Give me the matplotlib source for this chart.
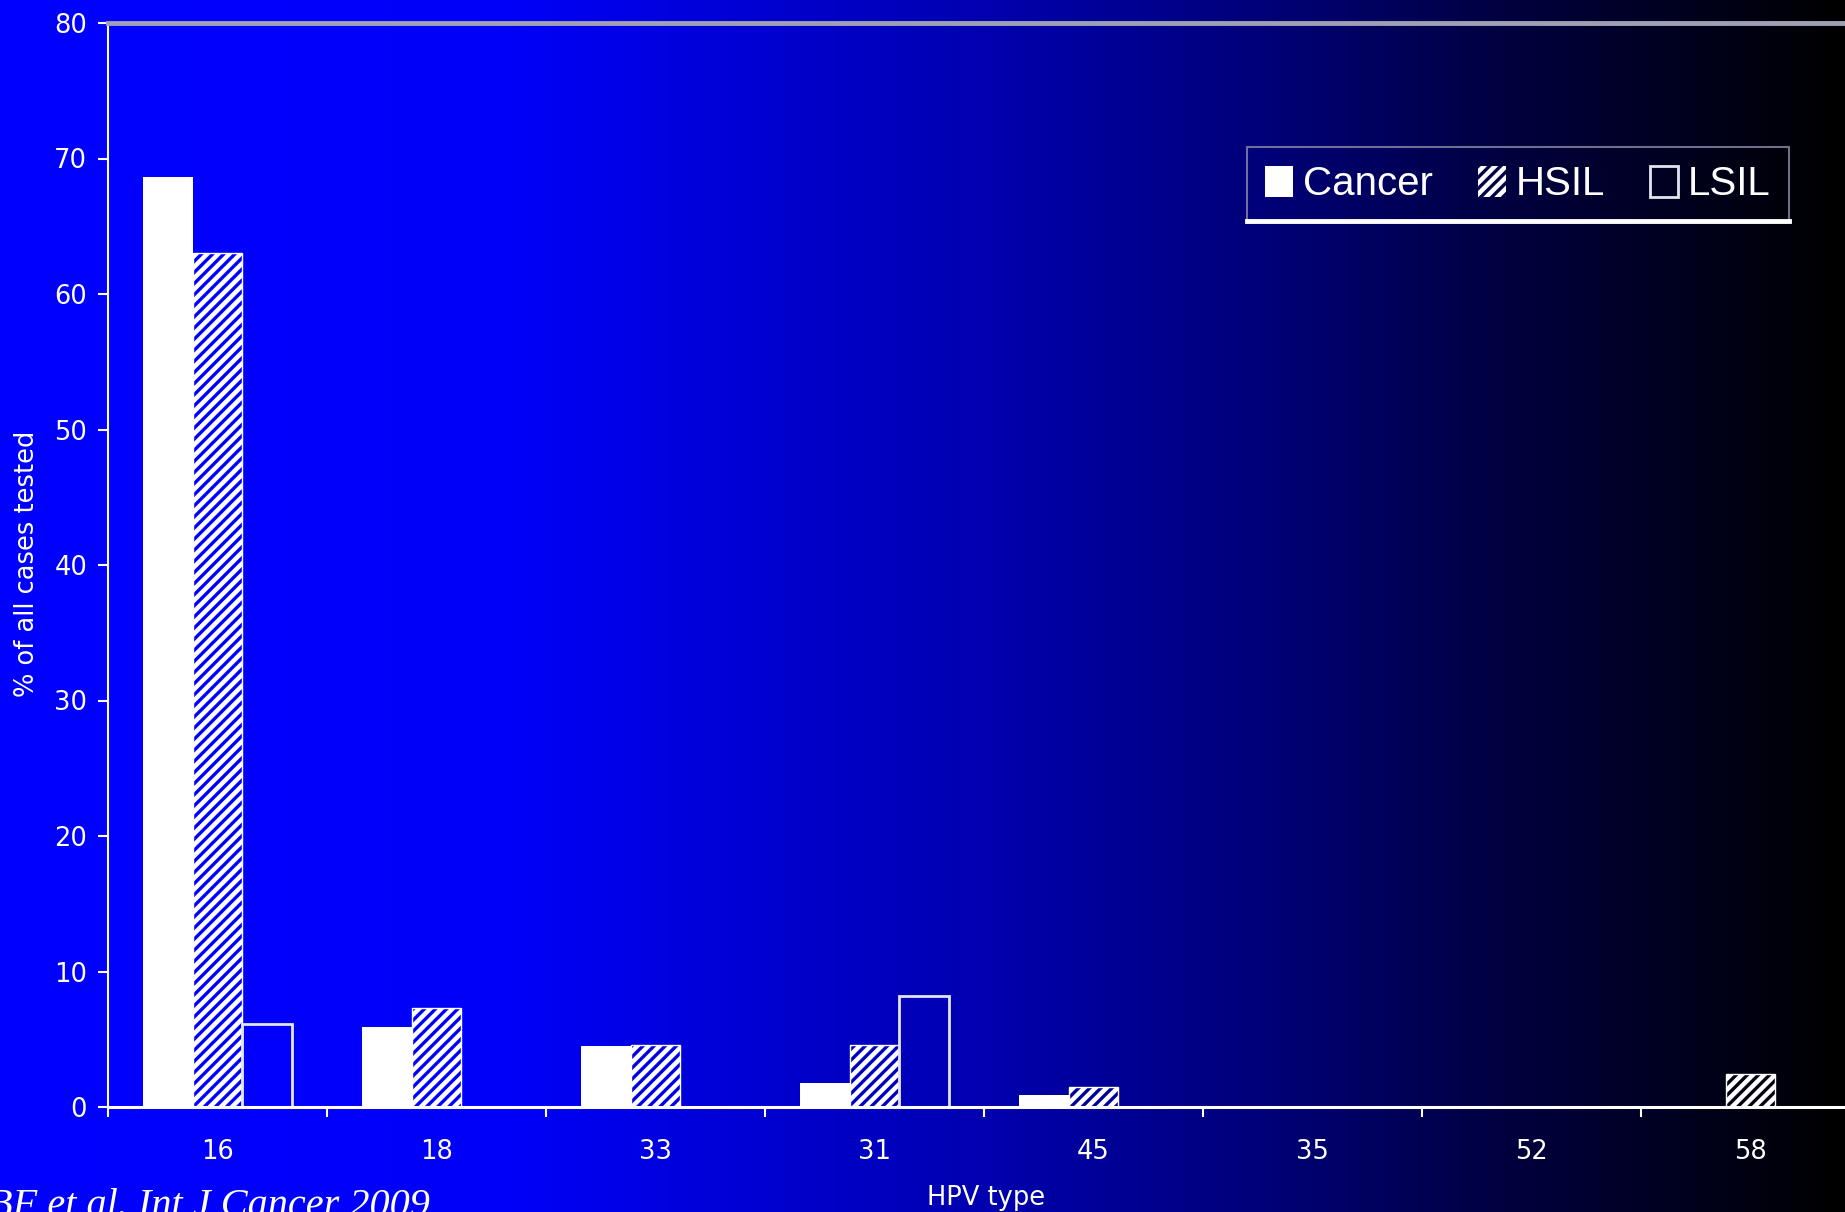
import matplotlib
matplotlib.use("Agg")
import matplotlib.pyplot as plt
import numpy as np
from matplotlib.lines import Line2D

# HPV type distribution, % of all cases tested
hpv_types = ["16", "18", "33", "31", "45", "35", "52", "58"]
cancer = [68.6, 5.9, 4.5, 1.8, 0.9, 0, 0, 0]
hsil = [63.0, 7.3, 4.6, 4.6, 1.5, 0, 0, 2.4]
lsil = [6.1, 0, 0, 8.2, 0, 0, 0, 0]

W, H = 1845, 1212
plt.rcParams["hatch.linewidth"] = 2.4

fig = plt.figure(figsize=(W / 100, H / 100), dpi=100, facecolor="black")

# slide background: bright blue fading to black on the right
stops = [0.0, 0.27, 0.54, 0.70, 0.81, 1.0]
blues = [1.0, 0.98, 0.68, 0.45, 0.26, 0.0]


def backdrop(fx):
    return (0.0, 0.0, float(np.interp(fx, stops, blues)))


xs = np.linspace(0, 1, 900)
grad = np.array([[backdrop(v) for v in xs]])
bg = fig.add_axes([0, 0, 1, 1], zorder=-1)
bg.imshow(grad, aspect="auto", extent=[0, 1, 0, 1], interpolation="bilinear")
bg.axis("off")

ax = fig.add_axes([108 / W, 105 / H, 1752 / W, 1084 / H])
ax.set_facecolor("none")
ax.set_xlim(-0.5, 7.5)
ax.set_ylim(0, 80)

x = np.arange(len(hpv_types))
w = 0.226

# hatch lines take the background colour behind each bar
hatch_cols = []
for xi in x:
    px = ax.transData.transform((xi, 0))[0]
    hatch_cols.append(backdrop(px / W))

b1 = ax.bar(x - w, cancer, w, color="white", linewidth=0, label="Cancer")
b2 = ax.bar(x, hsil, w, color="white", edgecolor=hatch_cols, hatch="///",
            linewidth=0, label="HSIL")
ax.bar(x, hsil, w, color="none", edgecolor="white", linewidth=1.0)
b3 = ax.bar(x + w, lsil, w, color="none", edgecolor="#e4e4f0", linewidth=2.0,
            label="LSIL")

ax.spines["right"].set_visible(False)
ax.spines["top"].set_color("#a0a0b4")
ax.spines["top"].set_linewidth(3.5)
ax.spines["left"].set_color("white")
ax.spines["left"].set_linewidth(1.5)
ax.spines["bottom"].set_color("white")
ax.spines["bottom"].set_linewidth(2.2)

ax.set_yticks(range(0, 81, 10))
ax.tick_params(axis="y", colors="white", length=7, width=1.5, pad=8,
               labelsize=18.5)
ax.set_xticks(x, hpv_types)
ax.tick_params(axis="x", which="major", length=0, pad=23, labelsize=18.5,
               labelcolor="white")
ax.set_xticks(np.arange(-0.5, 8, 1), minor=True)
ax.tick_params(axis="x", which="minor", length=7, width=1.5, color="white",
               direction="out")

fig.text(27 / W, 1 - 564 / H, "% of all cases tested", rotation=90,
         color="white", fontsize=18.5, ha="center", va="center")
fig.text(986 / W, 1 - 1198 / H, "HPV type", color="white", fontsize=18.5,
         ha="center", va="center")
fig.text(-12 / W, -4 / H, "BF et al. Int J Cancer 2009", color="white",
         fontsize=29, family="Liberation Serif", style="italic",
         ha="left", va="baseline")

leg = ax.legend(handles=[b1, b2, b3], loc="upper left",
                bbox_to_anchor=(1247 / W, 1 - 147 / H),
                bbox_transform=fig.transFigure, ncol=3, fancybox=False,
                borderaxespad=0, borderpad=0.45, handlelength=0.7,
                handleheight=0.8, handletextpad=0.25, columnspacing=1.1,
                prop={"family": "Liberation Sans", "size": 29})
for t in leg.get_texts():
    t.set_color("white")
frame = leg.get_frame()
frame.set_facecolor("none")
frame.set_edgecolor("#8c8ca8")
frame.set_linewidth(1.5)

# legend HSIL swatch: hatch in the darker colour behind the legend
leg.legend_handles[1].set_edgecolor(backdrop(1480 / W))
leg.legend_handles[1].set_linewidth(0)

# white shadow line along the legend's lower edge
fig.canvas.draw()
bb = leg.get_window_extent()
fig.add_artist(Line2D([bb.x0 / W, bb.x1 / W], [bb.y0 / H, bb.y0 / H],
                      color="white", linewidth=3.5))

fig.savefig("out.png", dpi=100)
